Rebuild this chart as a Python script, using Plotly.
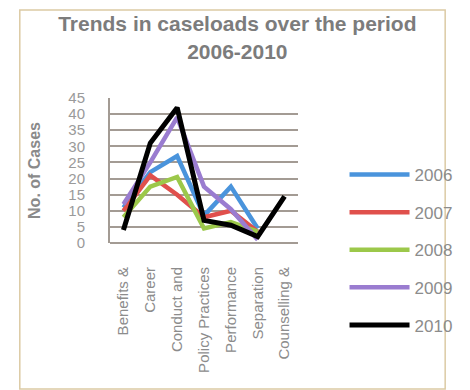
import plotly.graph_objects as go

categories = ["Benefits &", "Career", "Conduct and", "Policy Practices",
              "Performance", "Separation", "Counselling &"]
years = ["2006", "2007", "2008", "2009", "2010"]
v2006 = [11, 22, 27, 8.5, 17.5, 4.5, None]
v2007 = [10, 21, 15, 8, 10, 3.5, None]
v2008 = [8, 17.5, 20.5, 4.5, 6.5, 3.5, None]
v2009 = [12, 25, 39, 17.5, 10.5, 1, None]
v2010 = [4, 31, 42, 7, 5.5, 2, 14.5]
series = [v2006, v2007, v2008, v2009, v2010]
colors = ["#4a94dc", "#e0504c", "#9cc84a", "#9a7cd0", "#000000"]
y_ticks = [0, 5, 10, 15, 20, 25, 30, 35, 40, 45]

gray = "#8c8c8c"
fig = go.Figure()
for name, vals, c in zip(years, series, colors):
    fig.add_trace(go.Scatter(x=categories, y=vals, mode="lines", name=name,
                             legendgroup=name,
                             line=dict(color=c, width=5 if name == "2010" else 4.5)))

# plot area x: 110..308, y: 98..243 (px)
def px_x(p):
    return (p - 110) / 198.0

def px_y(p):
    return (243 - p) / 145.0

fig.update_layout(
    width=470, height=390,
    margin=dict(l=110, r=162, t=98, b=147),
    paper_bgcolor="white", plot_bgcolor="white",
    font=dict(family="Liberation Sans, Arial, sans-serif", color=gray),
    title=dict(text="<b>Trends in caseloads over the period<br>2006-2010</b>",
               x=0.505, xanchor="center", y=0.92, yanchor="top",
               font=dict(size=21, color="#7c7c7c")),
    showlegend=True,
    legend=dict(x=px_x(357), xanchor="left", y=px_y(157), yanchor="top",
                font=dict(size=17, color=gray), tracegroupgap=12.5,
                itemwidth=60, maxheight=300, bgcolor="rgba(0,0,0,0)"),
    xaxis=dict(showgrid=False, tickangle=-90, tickfont=dict(size=15, color=gray),
               showline=False, ticks="", range=[-0.5, 6.5], ticklabelstandoff=20),
    yaxis=dict(range=[0, 45], tickvals=y_ticks, showgrid=True,
               gridcolor="#a39b94", gridwidth=2, zeroline=True,
               zerolinecolor="#a39b94", zerolinewidth=2,
               showline=True, linecolor="#a39b94", linewidth=2,
               tickfont=dict(size=15, color="#9a9a9a"),
               ticklabelstandoff=20,
               title=dict(text="<b>No. of Cases</b>", font=dict(size=16, color="#8a8a8a"),
                          standoff=24)),
    shapes=[dict(type="rect", xref="paper", yref="paper",
                 x0=px_x(15), x1=px_x(463), y0=px_y(389), y1=px_y(10),
                 line=dict(color="#dccaa4", width=1.5), layer="below")],
)

fig.write_html("out.html")
